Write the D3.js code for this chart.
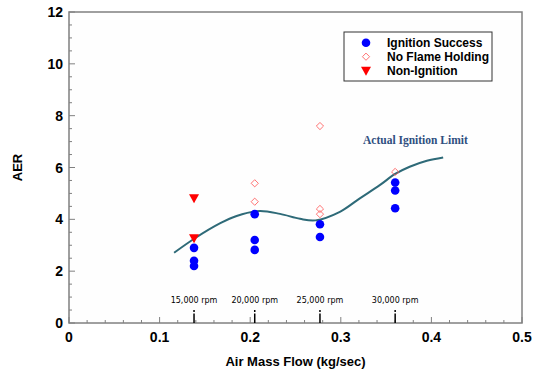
<!DOCTYPE html>
<html>
<head>
<meta charset="utf-8">
<script src="https://cdn.jsdelivr.net/npm/d3@7"></script>
<style>
  body { margin: 0; background: #fff; }
</style>
</head>
<body>
<div id="chart"></div>
<script>
// data
var success = [
    [0.138, 2.9], [0.138, 2.4], [0.138, 2.2],
    [0.205, 4.2], [0.205, 3.2], [0.205, 2.82],
    [0.277, 3.81], [0.277, 3.32],
    [0.36, 5.42], [0.36, 5.11], [0.36, 4.43]
];
var noFlame = [
    [0.205, 5.39], [0.205, 4.68],
    [0.277, 7.6], [0.277, 4.4], [0.277, 4.2],
    [0.36, 5.83]
];
var nonIgnition = [
    [0.138, 4.81], [0.138, 3.27]
];
var limitCurve = [
    [0.116, 2.71], [0.139, 3.27], [0.167, 3.85], [0.185, 4.13], [0.21, 4.32],
    [0.233, 4.21], [0.255, 4.02], [0.272, 3.96], [0.299, 4.29], [0.321, 4.81],
    [0.343, 5.32], [0.36, 5.75], [0.376, 6.03], [0.395, 6.26], [0.413, 6.39]
];
var rpmLabels = ["15,000 rpm", "20,000 rpm", "25,000 rpm", "30,000 rpm"];
var rpmFlows = [0.138, 0.205, 0.277, 0.36];
var xTicks = [0, 0.1, 0.2, 0.3, 0.4, 0.5];
var yTicks = [0, 2, 4, 6, 8, 10, 12];
var legendItems = ["Ignition Success", "No Flame Holding", "Non-Ignition"];

var W = 538, H = 372;
var sans = "Arial, 'Liberation Sans', sans-serif";
var x = d3.scaleLinear().domain([0, 0.5]).range([69, 522]);
var y = d3.scaleLinear().domain([0, 12]).range([323, 12]);

var svg = d3.select("#chart")
    .append("svg")
    .attr("width", W)
    .attr("height", H)
    .style("font-family", sans);

// frame
svg.append("rect")
    .attr("x", x(0))
    .attr("y", y(12))
    .attr("width", x(0.5) - x(0))
    .attr("height", y(0) - y(12))
    .attr("fill", "#fefefe")
    .attr("stroke", "#808080")
    .attr("stroke-width", 1.5);

// minor ticks
svg.selectAll("line.xminor")
    .data(d3.range(0, 51, 2).map(function(d){return d / 100}))
    .enter()
    .append("line")
    .attr("class", "xminor")
    .attr("x1", function(d){return x(d)})
    .attr("x2", function(d){return x(d)})
    .attr("y1", y(0))
    .attr("y2", function(d, i){return y(0) - (i % 5 == 0 ? 6 : 3)})
    .attr("stroke", "#808080")
    .attr("stroke-width", 1);

svg.selectAll("line.yminor")
    .data(d3.range(0, 25).map(function(d){return d / 2}))
    .enter()
    .append("line")
    .attr("class", "yminor")
    .attr("y1", function(d){return y(d)})
    .attr("y2", function(d){return y(d)})
    .attr("x1", x(0))
    .attr("x2", function(d, i){return x(0) + (i % 4 == 0 ? 6 : 3)})
    .attr("stroke", "#808080")
    .attr("stroke-width", 1);

// tick labels
svg.selectAll("text.xtick")
    .data(xTicks)
    .enter()
    .append("text")
    .attr("class", "xtick")
    .attr("x", function(d){return x(d)})
    .attr("y", 342)
    .attr("text-anchor", "middle")
    .attr("font-size", 14)
    .attr("font-weight", "bold")
    .text(function(d){return d});

svg.selectAll("text.ytick")
    .data(yTicks)
    .enter()
    .append("text")
    .attr("class", "ytick")
    .attr("x", 63)
    .attr("y", function(d){return y(d) + 5})
    .attr("text-anchor", "end")
    .attr("font-size", 14)
    .attr("font-weight", "bold")
    .text(function(d){return d});

// axis titles
svg.append("text")
    .attr("x", (x(0) + x(0.5)) / 2)
    .attr("y", 366)
    .attr("text-anchor", "middle")
    .attr("font-size", 13)
    .attr("font-weight", "bold")
    .text("Air Mass Flow (kg/sec)");

svg.append("text")
    .attr("transform", "translate(22," + (y(0) + y(12)) / 2 + ") rotate(-90)")
    .attr("text-anchor", "middle")
    .attr("font-size", 13)
    .attr("font-weight", "bold")
    .text("AER");

// rpm markers
svg.selectAll("line.rpm")
    .data(rpmFlows)
    .enter()
    .append("line")
    .attr("class", "rpm")
    .attr("x1", function(d){return x(d)})
    .attr("x2", function(d){return x(d)})
    .attr("y1", 310)
    .attr("y2", y(0))
    .attr("stroke", "#000")
    .attr("stroke-width", 1.5)
    .attr("stroke-dasharray", "2,1.5,20");

svg.selectAll("text.rpm")
    .data(rpmFlows)
    .enter()
    .append("text")
    .attr("class", "rpm")
    .attr("x", function(d){return x(d)})
    .attr("y", 303)
    .attr("text-anchor", "middle")
    .style("font-family", "'DejaVu Sans', Verdana, sans-serif")
    .attr("font-size", 8)
    .text(function(d, i){return rpmLabels[i]});

// ignition limit curve
var line = d3.line()
    .x(function(d){return x(d[0])})
    .y(function(d){return y(d[1])})
    .curve(d3.curveCatmullRom.alpha(0.5));

svg.append("path")
    .datum(limitCurve)
    .attr("d", line)
    .attr("fill", "none")
    .attr("stroke", "#2e6a78")
    .attr("stroke-width", 2);

svg.append("text")
    .attr("x", 363)
    .attr("y", 144)
    .style("font-family", "'Liberation Serif', 'Times New Roman', serif")
    .attr("font-size", 11.5)
    .attr("font-weight", "bold")
    .attr("fill", "#2f4f80")
    .text("Actual Ignition Limit");

// markers
var diamond = d3.symbol().type(d3.symbolSquare).size(26);
var triangle = "M-5,-4L5,-4L0,5Z";

svg.selectAll("path.noflame")
    .data(noFlame)
    .enter()
    .append("path")
    .attr("class", "noflame")
    .attr("d", diamond)
    .attr("transform", function(d){return "translate(" + x(d[0]) + "," + y(d[1]) + ") rotate(45)"})
    .attr("fill", "none")
    .attr("stroke", "#ff5a5a")
    .attr("stroke-width", 0.8);

svg.selectAll("circle.success")
    .data(success)
    .enter()
    .append("circle")
    .attr("class", "success")
    .attr("cx", function(d){return x(d[0])})
    .attr("cy", function(d){return y(d[1])})
    .attr("r", 4.3)
    .attr("fill", "#0000ff");

svg.selectAll("path.nonign")
    .data(nonIgnition)
    .enter()
    .append("path")
    .attr("class", "nonign")
    .attr("d", triangle)
    .attr("transform", function(d){return "translate(" + x(d[0]) + "," + y(d[1]) + ")"})
    .attr("fill", "#ff0000");

// legend
var lg = svg.append("g");
lg.append("rect")
    .attr("x", 344)
    .attr("y", 32)
    .attr("width", 148)
    .attr("height", 49)
    .attr("fill", "#fff")
    .attr("stroke", "#333")
    .attr("stroke-width", 1);

var rows = lg.selectAll("g.row")
    .data(legendItems)
    .enter()
    .append("g")
    .attr("class", "row")
    .attr("transform", function(d, i){return "translate(366," + (42.7 + i * 14) + ")"});

rows.append("text")
    .attr("x", 21)
    .attr("y", 4.5)
    .attr("font-size", 12)
    .attr("font-weight", "bold")
    .text(function(d){return d});

rows.filter(function(d, i){return i == 0})
    .append("circle")
    .attr("r", 4.3)
    .attr("fill", "#0000ff");
rows.filter(function(d, i){return i == 1})
    .append("path")
    .attr("d", diamond)
    .attr("transform", "rotate(45)")
    .attr("fill", "none")
    .attr("stroke", "#ff5a5a")
    .attr("stroke-width", 0.8);
rows.filter(function(d, i){return i == 2})
    .append("path")
    .attr("d", triangle)
    .attr("fill", "#ff0000");
</script>
</body>
</html>
